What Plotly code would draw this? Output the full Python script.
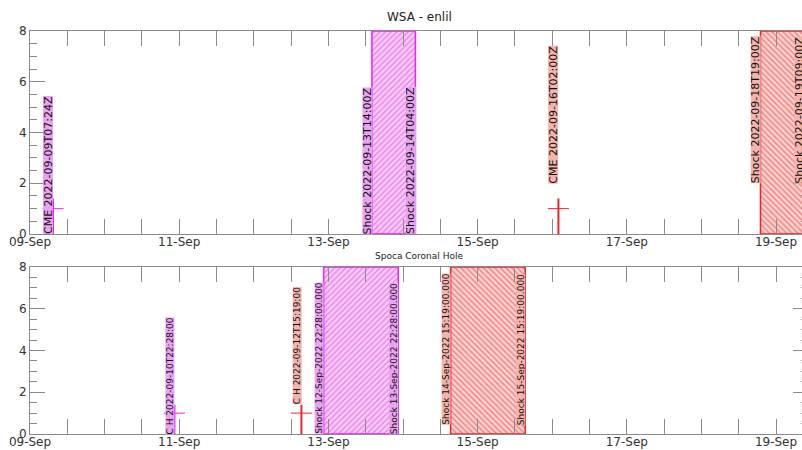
import plotly.graph_objects as go
import pandas as pd

# ---------------- data ----------------
# Panel 1: WSA - enlil
wsa_cme_times = ["2022-09-09T07:24", "2022-09-16T02:00"]
wsa_cme_labels = ["CME 2022-09-09T07:24Z", "CME 2022-09-16T02:00Z"]
wsa_cme_label_y = [0, 2]
wsa_shock_start = ["2022-09-13T14:00", "2022-09-18T19:00"]
wsa_shock_end = ["2022-09-14T04:00", "2022-09-19T09:00"]
wsa_shock_start_labels = ["Shock 2022-09-13T14:00Z", "Shock 2022-09-18T19:00Z"]
wsa_shock_end_labels = ["Shock 2022-09-14T04:00Z", "Shock 2022-09-19T09:00Z"]
wsa_shock_label_y = [0, 2]

# Panel 2: Spoca Coronal Hole
ch_times = ["2022-09-10T22:28", "2022-09-12T15:19"]
ch_labels = ["C H 2022-09-10T22:28:00", "C H 2022-09-12T15:19:00"]
ch_label_y = [0, 1.45]
spoca_shock_start = ["2022-09-12T22:28", "2022-09-14T15:19"]
spoca_shock_end = ["2022-09-13T22:28", "2022-09-15T15:19"]
spoca_shock_start_labels = ["Shock 12-Sep-2022 22:28:00.000", "Shock 14-Sep-2022 15:19:00.000"]
spoca_shock_end_labels = ["Shock 13-Sep-2022 22:28:00.000", "Shock 15-Sep-2022 15:19:00.000"]
spoca_shock_label_y = [0, 0.43]

marker_y = 1.0          # cross centre value
marker_top = 1.4        # top of vertical stem
marker_half_hours = 3.4 # half width of horizontal bar
y_top = 8

# ---------------- styles ----------------
LINE_COLORS = ["#ee22ee", "#e8262a"]
BOX_COLORS = ["#eaa2f2", "#f4b3ab"]
HATCH_BG = ["#f6d0f6", "#f9d4d0"]
HATCH_SHAPES = ["/", "\\"]
FONT = "DejaVu Sans"
AX_GRAY = "#8a8a8a"

x_start = pd.Timestamp("2022-09-09T00:00")
x_end = x_start + pd.Timedelta(days=10 * 772 / 746)
span = x_end - x_start

fig = go.Figure()
annotations = []


def frac(t):
    return (t - x_start) / span


def label(xa, ya, t, yv, text, color, fsize, box_h):
    annotations.append(dict(
        x=frac(t), y=yv, xref=xa + " domain", yref=ya, text=text, textangle=-90,
        xanchor="right", yanchor="bottom", showarrow=False,
        bgcolor=color, borderpad=0, borderwidth=0, height=box_h,
        font=dict(family=FONT, size=fsize, color="#111")))


def add_panel(xa, ya, cme_t, cme_lab, cme_ly, s0, s1, s0_lab, s1_lab, s_ly, fsize, box_h):
    for i in range(len(s0)):
        t0, t1 = pd.Timestamp(s0[i]), pd.Timestamp(s1[i])
        fig.add_trace(go.Scatter(
            x=[t0, t0, t1, t1, t0], y=[0, y_top, y_top, 0, 0], xaxis=xa, yaxis=ya,
            mode="lines", fill="toself", line=dict(color=LINE_COLORS[i], width=1.5),
            fillcolor=HATCH_BG[i],
            fillpattern=dict(shape=HATCH_SHAPES[i], fgcolor=LINE_COLORS[i], bgcolor=HATCH_BG[i],
                             size=4, solidity=0.35),
            hoverinfo="skip", showlegend=False))
        label(xa, ya, t0, s_ly[i], s0_lab[i], BOX_COLORS[i], fsize, box_h)
        label(xa, ya, t1, s_ly[i], s1_lab[i], BOX_COLORS[i], fsize, box_h)
    for i in range(len(cme_t)):
        t = pd.Timestamp(cme_t[i])
        dt = pd.Timedelta(hours=marker_half_hours)
        fig.add_trace(go.Scatter(x=[t - dt, t + dt], y=[marker_y, marker_y], xaxis=xa, yaxis=ya,
                                 mode="lines", line=dict(color=LINE_COLORS[i], width=1),
                                 hoverinfo="skip", showlegend=False))
        fig.add_trace(go.Scatter(x=[t, t], y=[0, marker_top], xaxis=xa, yaxis=ya,
                                 mode="lines", line=dict(color=LINE_COLORS[i], width=2),
                                 hoverinfo="skip", showlegend=False))
        label(xa, ya, t, cme_ly[i], cme_lab[i], BOX_COLORS[i], fsize, box_h)


add_panel("x", "y", wsa_cme_times, wsa_cme_labels, wsa_cme_label_y,
          wsa_shock_start, wsa_shock_end, wsa_shock_start_labels, wsa_shock_end_labels,
          wsa_shock_label_y, 11, 10)
add_panel("x2", "y2", ch_times, ch_labels, ch_label_y,
          spoca_shock_start, spoca_shock_end, spoca_shock_start_labels, spoca_shock_end_labels,
          spoca_shock_label_y, 9, 9)

# dummy traces for right-hand tick axes
fig.add_trace(go.Scatter(x=[], y=[], xaxis="x", yaxis="y3", showlegend=False))
fig.add_trace(go.Scatter(x=[], y=[], xaxis="x2", yaxis="y4", showlegend=False))

H = 450
top_dom = [1 - 234 / H, 1 - 31 / H]
bot_dom = [1 - 434 / H, 1 - 267 / H]

xaxis_style = dict(
    type="date", range=[x_start, x_end], tick0="2022-09-09", dtick=2 * 86400000,
    tickformat="%d-%b", ticks="inside", ticklen=15, tickcolor=AX_GRAY, tickwidth=1,
    showline=True, linecolor=AX_GRAY, linewidth=1, mirror="allticks", showgrid=False,
    zeroline=False, automargin=False, ticklabelstandoff=-3,
    tickfont=dict(family=FONT, size=12, color="#333"),
    minor=dict(dtick=43200000, tick0="2022-09-09", ticks="inside", ticklen=7,
               tickcolor=AX_GRAY, showgrid=False),
)
yaxis_style = dict(
    range=[0, y_top], dtick=2, ticks="inside", ticklen=15, tickcolor=AX_GRAY, tickwidth=1,
    showline=True, linecolor=AX_GRAY, linewidth=1, showgrid=False, zeroline=False,
    automargin=False, tickfont=dict(family=FONT, size=12, color="#333"),
    minor=dict(dtick=0.5, ticks="inside", ticklen=7, tickcolor=AX_GRAY, showgrid=False),
)
right_style = dict(
    range=[0, y_top], dtick=2, ticks="inside", ticklen=9, tickcolor=AX_GRAY, side="right",
    showline=False, showgrid=False, zeroline=False, showticklabels=False, automargin=False,
    minor=dict(dtick=0.5, ticks="inside", ticklen=1, tickcolor=AX_GRAY, showgrid=False),
)

fig.update_layout(
    width=802, height=450, margin=dict(l=30, r=0, t=0, b=0, pad=0, autoexpand=False),
    paper_bgcolor="white", plot_bgcolor="white", showlegend=False,
    xaxis=dict(domain=[0, 1], anchor="y", **xaxis_style),
    yaxis=dict(domain=top_dom, anchor="x", **yaxis_style),
    xaxis2=dict(domain=[0, 1], anchor="y2", **xaxis_style),
    yaxis2=dict(domain=bot_dom, anchor="x2", **yaxis_style),
    yaxis3=dict(overlaying="y", anchor="x", **right_style),
    yaxis4=dict(overlaying="y2", anchor="x2", **right_style),
    annotations=annotations + [
        dict(text="WSA - enlil", xref="x domain", yref="paper", x=0.504, y=1 - 17 / H,
             xanchor="center", yanchor="middle",
             showarrow=False, font=dict(family=FONT, size=12, color="#222")),
        dict(text="Spoca Coronal Hole", xref="x2 domain", yref="paper", x=0.504, y=1 - 256 / H,
             xanchor="center", yanchor="middle",
             showarrow=False, font=dict(family=FONT, size=9, color="#222")),
    ],
)

fig.write_html("out.html")
